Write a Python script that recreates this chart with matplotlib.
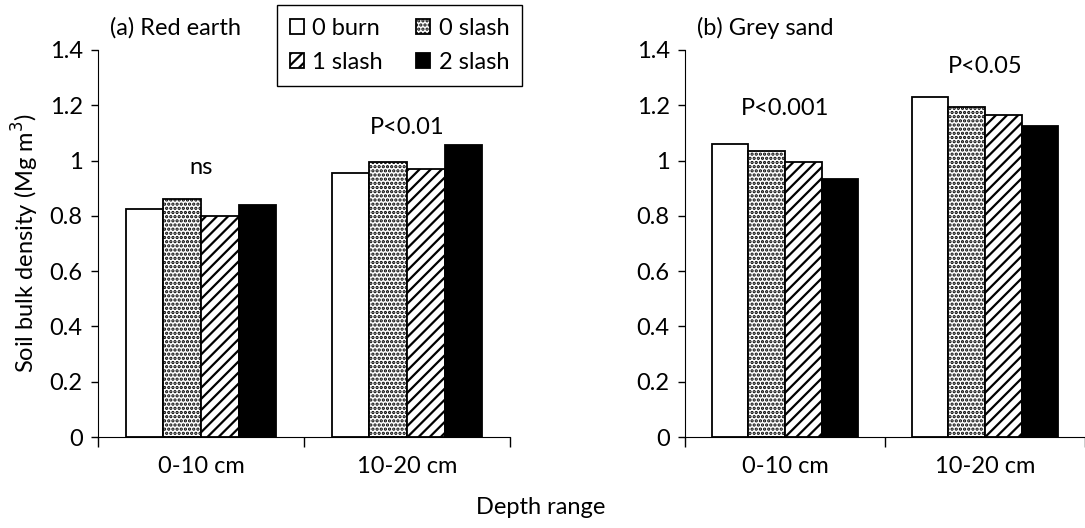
import matplotlib.pyplot as plt
import numpy as np

plt.rcParams['font.family'] = ['Lato', 'DejaVu Sans']
plt.rcParams['hatch.linewidth'] = 1.6

depths = ['0-10 cm', '10-20 cm']
treatments = ['0 burn', '0 slash', '1 slash', '2 slash']

red_earth = np.array([
    [0.825, 0.86, 0.80, 0.84],    # 0-10 cm
    [0.955, 0.995, 0.97, 1.055],  # 10-20 cm
])
grey_sand = np.array([
    [1.06, 1.035, 0.995, 0.935],
    [1.23, 1.195, 1.165, 1.125],
])

red_notes = ['ns', 'P<0.01']
red_note_y = [0.975, 1.12]
grey_notes = ['P<0.001', 'P<0.05']
grey_note_y = [1.19, 1.34]

faces = ['white', 'white', 'white', 'black']
hatches = [None, '....', '///', None]

fs = 17

fig = plt.figure(figsize=(10.85, 5.28), dpi=100)
ax1 = fig.add_axes([98 / 1085, 1 - 437 / 528, 412 / 1085, 387 / 528])
ax2 = fig.add_axes([685 / 1085, 1 - 437 / 528, 400 / 1085, 387 / 528])

bw = 0.183
offs = (np.arange(4) - 1.5) * bw
centers = np.array([0.5, 1.5])


def draw(ax, vals, notes, note_y, title, xmax):
    for j in range(4):
        ax.bar(centers + offs[j], vals[:, j], width=bw, color=faces[j],
               edgecolor='black', linewidth=1.3, hatch=hatches[j],
               label=treatments[j])
    for c, t, y in zip(centers, notes, note_y):
        ax.text(c, y, t, ha='center', va='center', fontsize=fs)
    ax.set_ylim(0, 1.4)
    ax.set_xlim(0, xmax)
    ax.set_yticks(np.arange(0, 1.41, 0.2))
    ax.set_yticklabels(['0', '0.2', '0.4', '0.6', '0.8', '1', '1.2', '1.4'])
    ax.set_xticks([0, 1, 2])
    ax.set_xticklabels([])
    ax.set_xticks(centers, minor=True)
    ax.set_xticklabels(depths, minor=True)
    ax.tick_params(axis='x', which='minor', length=0, pad=14, labelsize=fs)
    ax.tick_params(axis='x', which='major', length=7, width=1, direction='out')
    ax.tick_params(axis='y', length=5, width=1, labelsize=fs, pad=6)
    for s in ['top', 'right']:
        ax.spines[s].set_visible(False)
    ax.text(0.06, 1.48, title, fontsize=fs, ha='left', va='center', clip_on=False)


draw(ax1, red_earth, red_notes, red_note_y, '(a) Red earth', 2.0)
draw(ax2, grey_sand, grey_notes, grey_note_y, '(b) Grey sand', 400 / 206)

ax1.set_ylabel('Soil bulk density (Mg m$^3$)', fontsize=fs, labelpad=6)
fig.text(541 / 1085, 1 - 508 / 528, 'Depth range', ha='center', va='center', fontsize=fs)

h, l = ax1.get_legend_handles_labels()
order = [0, 2, 1, 3]
fig.legend([h[i] for i in order], [l[i] for i in order], ncol=2, loc='upper left',
           bbox_to_anchor=(277 / 1085, 1 - 5 / 528), borderaxespad=0,
           fontsize=fs, fancybox=False, edgecolor='black', framealpha=1,
           handlelength=0.6, handleheight=0.6, handletextpad=0.35,
           columnspacing=1.4, labelspacing=0.55, borderpad=0.55)

fig.savefig('out.png', dpi=100)
